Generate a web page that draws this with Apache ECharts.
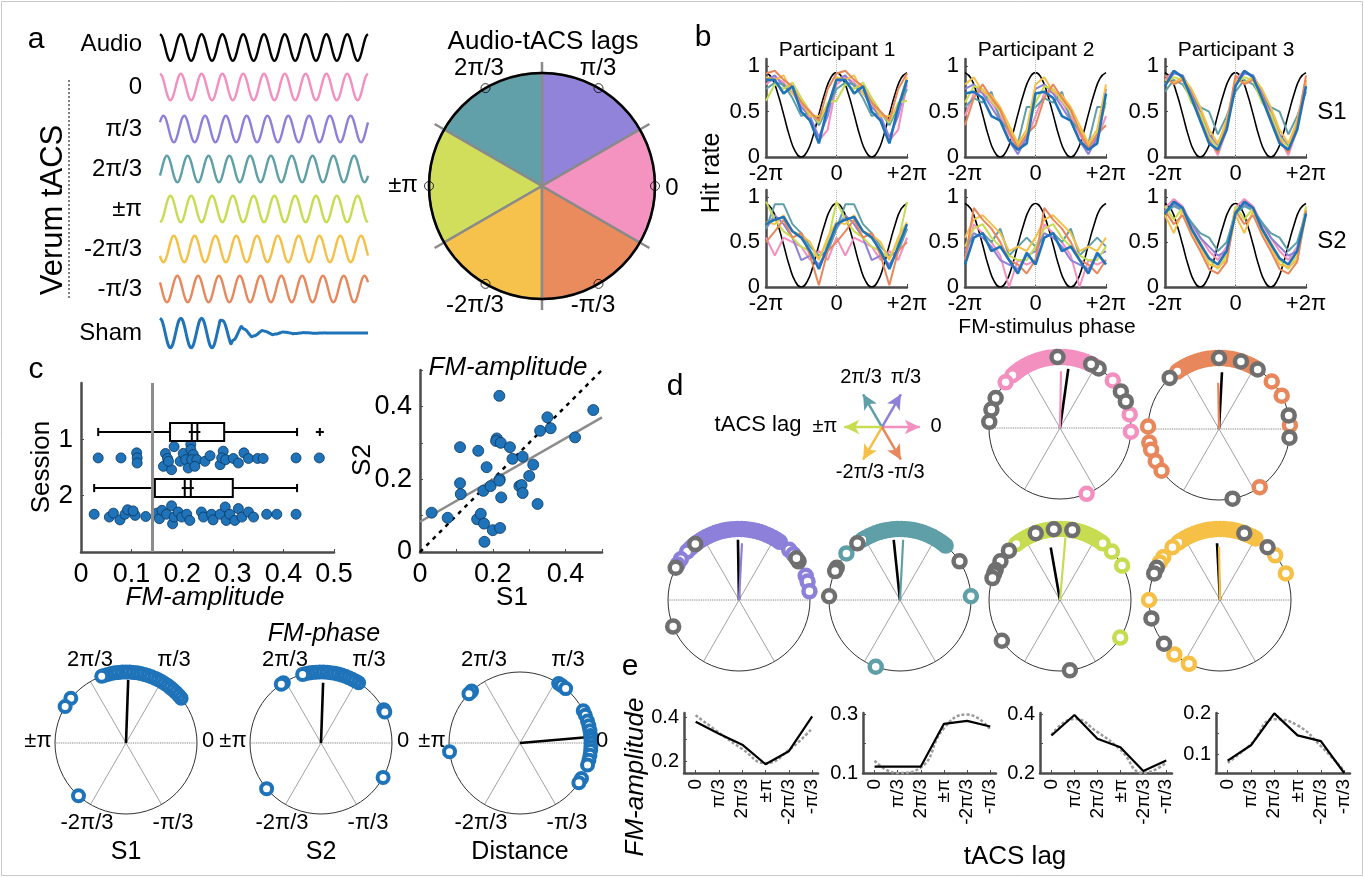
<!DOCTYPE html>
<html><head><meta charset="utf-8">
<script src="https://cdn.jsdelivr.net/npm/echarts@6/dist/echarts.min.js"></script>
<style>html,body{margin:0;padding:0;background:#fff}#c{width:1364px;height:877px}</style>
</head><body><div id="c"></div>
<script>
// ================= DATA =================
const lagLabels = ['0','π/3','2π/3','±π','-2π/3','-π/3'];
const lagAngles = [0,60,120,180,240,300];
// panel a
const waveNames = ['Audio','0','π/3','2π/3','±π','-2π/3','-π/3','Sham'];
const waveCycle = [1,0.866,0.5,0,-0.5,-0.866,-1,-0.866,-0.5,0,0.5,0.866];
const waveShift = [0,0,2,4,6,8,10,0];
const shamEnvelope = [1,1,1,1,1,1,0.85,0.5,0.3,0.2,0.13,0.08,0.05,0.03,0.02,0.01,0,0,0,0,0];
const pieSectorNames = ['π/3','2π/3','±π','-2π/3','-π/3','0'];
const pieSectorShares = [1,1,1,1,1,1];
// panel b (phase in units of π; series order: pink, purple, teal, green, yellow, orange, sham-blue)
const binPhase = [0,0.25,0.5,0.75,1,1.25,1.5,1.75];
const blackCycle = [0.93,0.87,0.70,0.47,0.23,0.06,0,0.06,0.23,0.47,0.70,0.87];
const hitP1S1 = [[0.80,0.88,0.82,0.70,0.60,0.40,0.18,0.30],[0.85,0.90,0.78,0.72,0.55,0.45,0.22,0.45],[0.75,0.82,0.80,0.65,0.45,0.50,0.35,0.55],[0.62,0.80,0.75,0.82,0.65,0.50,0.38,0.60],[0.88,0.85,0.90,0.70,0.62,0.45,0.45,0.55],[0.92,0.95,0.85,0.78,0.60,0.50,0.40,0.75],[0.85,0.85,0.70,0.78,0.50,0.40,0.15,0.55]];
const hitP2S1 = [[0.45,0.70,0.72,0.60,0.45,0.25,0.08,0.20],[0.75,0.80,0.70,0.55,0.40,0.18,0.03,0.22],[0.55,0.65,0.60,0.72,0.40,0.30,0.15,0.55],[0.60,0.78,0.75,0.62,0.50,0.30,0.12,0.25],[0.80,0.88,0.72,0.68,0.55,0.35,0.15,0.30],[0.35,0.65,0.80,0.65,0.52,0.28,0.10,0.25],[0.70,0.72,0.65,0.45,0.40,0.18,0.08,0.15]];
const hitP3S1 = [[0.85,0.95,0.88,0.70,0.45,0.20,0.02,0.30],[0.80,0.92,0.90,0.72,0.50,0.25,0.12,0.35],[0.72,0.85,0.80,0.65,0.55,0.50,0.25,0.45],[0.80,0.88,0.85,0.60,0.48,0.22,0.10,0.40],[0.85,0.82,0.88,0.75,0.55,0.30,0.15,0.40],[0.90,0.80,0.85,0.68,0.42,0.18,0.05,0.35],[0.78,0.95,0.88,0.65,0.40,0.15,0.08,0.30]];
const hitP1S2 = [[0.55,0.35,0.55,0.50,0.45,0.30,0.40,0.30],[0.65,0.80,0.70,0.55,0.30,0.35,0.25,0.40],[0.65,0.92,0.92,0.70,0.60,0.45,0.35,0.40],[0.95,0.75,0.62,0.55,0.45,0.40,0.32,0.50],[0.72,0.70,0.80,0.62,0.58,0.50,0.30,0.55],[0.50,0.62,0.75,0.55,0.60,0.35,0.02,0.40],[0.70,0.75,0.78,0.62,0.55,0.40,0.20,0.45]];
const hitP2S2 = [[0.30,0.70,0.60,0.50,0.35,0.00,0.30,0.25],[0.40,0.60,0.55,0.45,0.30,0.25,0.20,0.35],[0.45,0.55,0.60,0.50,0.65,0.35,0.45,0.55],[0.45,0.65,0.70,0.55,0.45,0.35,0.30,0.30],[0.55,0.75,0.80,0.70,0.60,0.40,0.45,0.40],[0.30,0.88,0.75,0.65,0.50,0.30,0.25,0.15],[0.25,0.55,0.60,0.40,0.45,0.30,0.15,0.38]];
const hitP3S2 = [[0.88,0.98,0.90,0.70,0.55,0.40,0.30,0.45],[0.85,0.92,0.85,0.72,0.55,0.45,0.35,0.40],[0.82,0.90,0.85,0.72,0.60,0.55,0.40,0.50],[0.90,0.75,0.88,0.65,0.50,0.30,0.20,0.35],[0.80,0.60,0.85,0.62,0.45,0.25,0.22,0.30],[0.85,0.70,0.80,0.58,0.40,0.20,0.15,0.28],[0.82,0.95,0.88,0.65,0.48,0.32,0.25,0.40]];
const participantNames = ['Participant 1','Participant 2','Participant 3'];
// panel c
const sess1Amp = [0.034,0.079,0.110,0.111,0.111,0.167,0.171,0.163,0.179,0.184,0.173,0.196,0.202,0.207,0.212,0.217,0.217,0.222,0.219,0.229,0.225,0.245,0.255,0.275,0.281,0.278,0.286,0.301,0.311,0.322,0.331,0.349,0.360,0.425,0.471];
const sess1Jitter = [0,0,-0.09,0,0.09,-0.08,0.01,0.15,0.21,-0.2,0.06,0.06,-0.08,0.03,0.18,-0.24,-0.15,-0.06,0.03,0.03,0.15,0.06,-0.04,0.12,-0.12,0,0.03,0.01,0.09,-0.09,0.01,0.01,0.01,0,0];
const sess2Amp = [0.026,0.056,0.064,0.077,0.087,0.092,0.107,0.103,0.128,0.150,0.155,0.160,0.169,0.179,0.181,0.184,0.192,0.199,0.209,0.215,0.238,0.242,0.258,0.261,0.275,0.285,0.287,0.294,0.304,0.311,0.318,0.331,0.341,0.367,0.387,0.425];
const sess2Jitter = [0,0.05,-0.02,0.1,0,-0.08,0.02,-0.06,0.04,-0.02,0.08,-0.07,0,-0.15,0.17,0.05,-0.04,0.05,0,0.11,-0.04,0.05,0,0.1,0,-0.13,0.11,0,0.11,-0.1,0.05,-0.04,0.05,0,0,0];
const boxRow = [0.87,1.865];
const boxLow = [0.034,0.026], boxQ1 = [0.176,0.146], boxMedian = [0.219,0.205], boxMean = [0.23,0.217], boxQ3 = [0.283,0.30], boxHigh = [0.427,0.427], boxOutlier = [0.472,null];
const chanceLevel = 0.142;
const ampS1 = [0.032,0.076,0.110,0.110,0.112,0.160,0.157,0.167,0.174,0.176,0.177,0.183,0.194,0.200,0.211,0.209,0.219,0.218,0.220,0.218,0.222,0.223,0.247,0.254,0.273,0.279,0.282,0.282,0.300,0.311,0.323,0.330,0.350,0.359,0.426,0.476];
const ampS2 = [0.108,0.094,0.288,0.189,0.159,0.278,0.090,0.105,0.168,0.078,0.028,0.233,0.181,0.060,0.312,0.305,0.200,0.196,0.066,0.429,0.300,0.150,0.288,0.256,0.181,0.184,0.262,0.162,0.209,0.240,0.132,0.333,0.370,0.340,0.315,0.390];
const identityLine = [[0,0],[0.5,0.5]];
const regressionLine = [[0,0.083],[0.5,0.37]];
const phaseS1 = [39,42,45,48,51,54,57,60,63,66,69,72,75,78,81,84,87,90,93,96,99,102,105,108,110,141,149,228];
const phaseS2 = [58,61,64,67,70,73,76,79,82,85,88,91,94,97,100,103,105,122,124,28,26,331,220];
const phaseDist = [133,136,187,57,54,50,27,23,18,14,10,6,3,0,357,354,350,346,342,330,326];
const meanS1 = [0.89,88], meanS2 = [0.85,88], meanDist = [0.9,5];
// panel d
const dPhaseLag0 = [60,63,66,69,72,75,78,81,84,87,90,93,96,99,102,105,108,111,114,117,120,123,126,129,132,140,42,11,357,292];
const dPhaseLag0Sham = [155,165,175,31,22,57,64,92];
const dPhaseLagM1 = [60,63,66,69,72,75,78,81,84,87,90,93,96,99,102,105,108,111,114,117,120,123,126,42,28,3,178,191,197,207,216,305];
const dPhaseLagM1Sham = [134,57,72,90,11,353,281];
const dPhaseLag1 = [55,58,61,64,67,70,73,76,79,82,85,88,91,94,97,100,103,106,109,112,115,118,121,124,127,130,133,137,145,150,45,40,20,15,7];
const dPhaseLag1Sham = [153,128,33,36,202];
const dPhaseLag2 = [50,53,56,59,62,65,68,71,74,77,80,83,86,89,92,95,98,101,104,107,110,113,116,119,122,139,3,250];
const dPhaseLag2Sham = [127,153,156,177,33];
const dPhaseLagPi = [56,59,62,65,68,71,74,77,80,83,86,89,92,95,98,101,104,107,110,113,116,119,122,125,128,53,43,29,328];
const dPhaseLagPiSham = [136,147,155,158,162,215,278,80,95,110];
const dPhaseLagM2 = [60,63,66,69,72,75,78,81,84,87,90,93,96,99,102,105,108,111,114,117,120,123,126,132,143,148,39,22,180,230,244];
const dPhaseLagM2Sham = [153,158,48,195,218,70];
const dMeanLag = [[0.80,89],[0.65,91],[0.80,87],[0.85,87],[0.88,85],[0.75,91]];
const dMeanSham = [[0.84,82],[0.80,87],[0.85,91],[0.85,96],[0.75,100],[0.80,93]];
// panel e
const eLagLabels = ['0','π/3','2π/3','±π','-2π/3','-π/3'];
const eObs1 = [0.38,0.325,0.275,0.185,0.245,0.405], eFit1 = [0.41,0.33,0.255,0.19,0.25,0.35];
const eObs2 = [0.122,0.122,0.122,0.268,0.278,0.259], eFit2 = [0.142,0.10,0.119,0.253,0.30,0.249];
const eObs3 = [0.328,0.398,0.317,0.288,0.207,0.243], eFit3 = [0.33,0.385,0.34,0.28,0.20,0.235];
const eObs4 = [0.085,0.122,0.199,0.146,0.132,0.055], eFit4 = [0.08,0.125,0.185,0.17,0.12,0.06];

// ================= STYLE / HELPERS =================
const FONT = '"Liberation Sans", Arial, Helvetica, sans-serif';
const PINK='#f390c0', PURPLE='#8c80da', TEAL='#5f9fa7', GREEN='#c8dc52', YELLOW='#f5c045', ORANGE='#e8875b', BLUE='#1f73b9', SGRAY='#6f6f6f';
const lagColors = [PINK,PURPLE,TEAL,GREEN,YELLOW,ORANGE];
const pieColors = ['#9083d9','#62a0a9','#d0de5c','#f6c24c','#e98b5c','#f493c0'];
const option = {animation:false, backgroundColor:'#fff', grid:[], xAxis:[], yAxis:[], polar:[], angleAxis:[], radiusAxis:[], series:[], graphic:[]};

function merge(a,b){const o=Object.assign({},a);for(const k in b){const bv=b[k],av=a?a[k]:undefined;if(bv&&typeof bv==='object'&&!Array.isArray(bv)&&av&&typeof av==='object'&&!Array.isArray(av))o[k]=merge(av,bv);else o[k]=bv;}return o;}
const AX = {type:'value', axisLine:{show:true,onZero:false,lineStyle:{color:'#4b4b4b',width:2.5}}, axisTick:{show:true,inside:true,length:3,lineStyle:{color:'#4b4b4b',width:1}}, axisLabel:{show:true,color:'#000',fontFamily:FONT,fontSize:22,margin:6}, splitLine:{show:false}};
function addGrid(left,top,width,height,xa,ya){const gi=option.grid.length;option.grid.push({left,top,width,height,containLabel:false,outerBoundsMode:'none'});option.xAxis.push(Object.assign({gridIndex:gi},xa));option.yAxis.push(Object.assign({gridIndex:gi},ya));return gi;}
function txt(x,y,s,size,o){o=o||{};const al=o.align||'center';option.graphic.push({type:'text',x,y,rotation:o.rot||0,silent:true,z:100,style:{text:s,x:0,y:0,fill:'#000',font:(o.italic?'italic ':'')+size+'px '+FONT,align:al,verticalAlign:'middle',textAlign:al,textVerticalAlign:'middle'}});}
function addPolar(cx,cy,r,angleExtra){const pi=option.polar.length;option.polar.push({center:[cx,cy],radius:r});
  option.angleAxis.push(merge({polarIndex:pi,type:'value',min:0,max:360,startAngle:0,clockwise:false,z:1,axisLine:{show:true,lineStyle:{color:'#333',width:1}},axisTick:{show:false},axisLabel:{show:false},splitLine:{show:false}},angleExtra||{}));
  option.radiusAxis.push({polarIndex:pi,type:'value',min:0,max:1,show:false});return pi;}
function polarLine(pi,data,color,width,type,z){option.series.push({type:'line',coordinateSystem:'polar',polarIndex:pi,data,symbol:'none',silent:true,z:z||3,lineStyle:{color,width,type:type||'solid'}});}
function polarMarkers(pi,angles,color,size,bw){option.series.push({type:'scatter',coordinateSystem:'polar',polarIndex:pi,silent:true,z:4,symbol:'circle',symbolSize:size,data:angles.map(a=>[1,a]),itemStyle:{color:'#fff',borderColor:color,borderWidth:bw,opacity:1}});}
function circlePlot(cx,cy,r,sets,vecs){const pi=addPolar(cx,cy,r);
  polarLine(pi,[[1,60],[1,240]],'#8a8a8a',0.8,'solid',2);
  polarLine(pi,[[1,120],[1,300]],'#8a8a8a',0.8,'solid',2);
  polarLine(pi,[[1,0],[1,180]],'#666',0.9,'dotted',2);
  sets.forEach(s=>polarMarkers(pi,s.angles,s.color,s.size||11,s.bw||3.5));
  vecs.forEach(v=>polarLine(pi,[[0,v.ang],[v.len,v.ang]],v.color,v.width,'solid',5));
  return pi;}

// ================= PANEL A =================
txt(36,40,'a',30);
const rowCenters=[47.5,87,129,169,209,249,289,333];
const waveColors=['#000',PINK,PURPLE,TEAL,GREEN,YELLOW,ORANGE,BLUE];
waveNames.forEach((name,r)=>{
  const half = r===7?15.5:14;
  const gi = addGrid(160,rowCenters[r]-half,208,2*half,{type:'value',show:false,min:0,max:120},{type:'value',show:false,min:-1.05,max:1.05});
  const data=[];
  for(let j=0;j<=120;j++){
    const v = r<7 ? waveCycle[((j-waveShift[r])%12+12)%12] : waveCycle[j%12]*shamEnvelope[Math.floor(j/6)];
    data.push([j,v]);
  }
  option.series.push({type:'line',xAxisIndex:gi,yAxisIndex:gi,data,smooth:0.5,symbol:'none',silent:true,lineStyle:{color:waveColors[r],width:r===7?3:2.4}});
  txt(142,rowCenters[r]-(r===0?3:0),name,24,{align:'right'});
});
txt(53,210,'Verum tACS',31,{rot:Math.PI/2});
option.graphic.push({type:'line',silent:true,shape:{x1:69,y1:80,x2:69,y2:300},style:{stroke:'#000',lineWidth:1,lineDash:[2,2]}});
// pie
txt(543,42,'Audio-tACS lags',26);
{ const p0=option.polar.length; option.polar.push({center:[542,186],radius:124});
  option.angleAxis.push({polarIndex:p0,type:'value',min:0,max:360,interval:60,startAngle:30,clockwise:false,z:0,axisLine:{show:false},axisTick:{show:false},axisLabel:{show:false},splitLine:{show:true,lineStyle:{color:'#8a8a8a',width:2.5}}});
  option.radiusAxis.push({polarIndex:p0,type:'value',min:0,max:1,show:false}); }
option.series.push({type:'pie',center:[542,186],radius:113,startAngle:30,clockwise:false,silent:true,z:2,label:{show:false},labelLine:{show:false},itemStyle:{borderColor:'#8a8a8a',borderWidth:2.5},
  data:pieSectorNames.map((n,i)=>({name:n,value:pieSectorShares[i],itemStyle:{color:pieColors[i]}}))});
{ const p1=addPolar(542,186,113,{z:6,axisLine:{lineStyle:{color:'#000',width:2.5}}});
  option.series.push({type:'scatter',coordinateSystem:'polar',polarIndex:p1,silent:true,z:8,symbol:'circle',symbolSize:9,data:lagAngles.map(a=>[1,a]),itemStyle:{color:'rgba(255,255,255,0)',borderColor:'#000',borderWidth:1}}); }
[[479,68,'2π/3'],[598,68,'π/3'],[403,185,'±π'],[672,188,'0'],[475,305,'-2π/3'],[593,305,'-π/3']].forEach(t=>txt(t[0],t[1],t[2],24));

// ================= PANEL B =================
txt(703,38,'b',30);
const bLefts=[766,965,1165], bTops=[59,190], bHeights=[98,97];
const bPanels=[hitP1S1,hitP2S1,hitP3S1,hitP1S2,hitP2S2,hitP3S2];
const bColors=[PINK,PURPLE,TEAL,GREEN,YELLOW,ORANGE,BLUE];
bPanels.forEach((panel,idx)=>{
  const col=idx%3,row=Math.floor(idx/3);
  const gi=addGrid(bLefts[col],bTops[row],141,bHeights[row],
    merge(AX,{min:-2,max:2,axisLabel:{customValues:[-2,0,2],formatter:v=>v<-1?'-2π':(v>1?'+2π':'0')},axisTick:{customValues:[-2,0,2]}}),
    merge(AX,{min:0,max:1.08,axisLabel:{customValues:[0,0.5,1],formatter:v=>String(v)},axisTick:{customValues:[0,0.5,1]}}));
  const blk=[]; for(let k=0;k<=24;k++) blk.push([-2+k/6,blackCycle[k%12]]);
  option.series.push({type:'line',xAxisIndex:gi,yAxisIndex:gi,data:blk,smooth:0.5,symbol:'none',silent:true,z:2,lineStyle:{color:'#000',width:1.6},
    markLine:{silent:true,symbol:['none','none'],label:{show:false},lineStyle:{color:'#b0b0b0',type:'dotted',width:1},data:[{xAxis:0}]}});
  panel.forEach((vals,s)=>{
    const d=binPhase.map((p,i)=>[-2+p,vals[i]]).concat(binPhase.map((p,i)=>[p,vals[i]])).concat([[2,vals[0]]]);
    option.series.push({type:'line',xAxisIndex:gi,yAxisIndex:gi,data:d,symbol:'none',silent:true,z:3+s,lineStyle:{color:bColors[s],width:s===6?2.6:2}});
  });
});
participantNames.forEach((n,i)=>txt(bLefts[i]+71,50,n,21));
txt(1332,112,'S1',24); txt(1332,241,'S2',24);
txt(712,173,'Hit rate',25,{rot:Math.PI/2});
txt(1047,327,'FM-stimulus phase',21);

// ================= PANEL C =================
txt(36,370,'c',30);
{ const gi=addGrid(81,383,253,169,
    merge(AX,{min:0,max:0.5,interval:0.1,axisLabel:{fontSize:27,margin:9,formatter:v=>v===0?'0':v.toFixed(1)}}),
    merge(AX,{min:0,max:3,inverse:true,axisLabel:{fontSize:26,margin:8,customValues:[1,2]},axisTick:{customValues:[1,2]}}));
  option.series.push({type:'scatter',xAxisIndex:gi,yAxisIndex:gi,silent:true,z:3,symbolSize:10,
    data:sess1Amp.map((v,i)=>[v,1.33+sess1Jitter[i]]).concat(sess2Amp.map((v,i)=>[v,2.33+sess2Jitter[i]])),
    itemStyle:{color:BLUE,borderColor:'#0b365f',borderWidth:0.8,opacity:1},
    markLine:{silent:true,symbol:['none','none'],label:{show:false},lineStyle:{color:'#8c8c8c',width:3,type:'solid'},data:[{xAxis:chanceLevel}]}});
  option.series.push({type:'custom',xAxisIndex:gi,yAxisIndex:gi,silent:true,z:4,encode:{x:[1,2,3,4,5,6],y:0},
    data:boxRow.map((y,i)=>[y,boxLow[i],boxQ1[i],boxMedian[i],boxMean[i],boxQ3[i],boxHigh[i],boxOutlier[i]===null?'-':boxOutlier[i]]),
    renderItem:(params,api)=>{
      const y=api.value(0); const h=Math.abs(api.size([0,0.16])[1]); const cap=h*0.45;
      const P=x=>api.coord([x,y]);
      const st={stroke:'#000',lineWidth:2,fill:null};
      const L=(x1,y1,x2,y2)=>({type:'line',shape:{x1,y1,x2,y2},style:st});
      const lo=P(api.value(1)),q1=P(api.value(2)),md=P(api.value(3)),mn=P(api.value(4)),q3=P(api.value(5)),hi=P(api.value(6));
      const cy=lo[1];
      const ch=[L(lo[0],cy,q1[0],cy),L(q3[0],cy,hi[0],cy),L(lo[0],cy-cap,lo[0],cy+cap),L(hi[0],cy-cap,hi[0],cy+cap),
        {type:'rect',shape:{x:q1[0],y:cy-h,width:q3[0]-q1[0],height:2*h},style:{stroke:'#000',lineWidth:2,fill:'#fff'}},
        L(md[0],cy-h,md[0],cy+h),L(mn[0],cy-h,mn[0],cy+h),L(md[0]-3,cy,mn[0]+3,cy)];
      const ov=api.value(7);
      if(!isNaN(ov)){const o=P(ov);ch.push(L(o[0]-4,cy,o[0]+4,cy),L(o[0],cy-4,o[0],cy+4));}
      return {type:'group',children:ch};
    }});
}
txt(42,467,'Session',26,{rot:Math.PI/2});
txt(205,598,'FM-amplitude',26,{italic:true});
{ const gi=addGrid(420,370,182,182,
    merge(AX,{min:0,max:0.5,interval:0.1,axisLabel:{fontSize:27,margin:9,customValues:[0,0.2,0.4],formatter:v=>v===0?'0':v.toFixed(1)}}),
    merge(AX,{min:0,max:0.5,interval:0.1,axisLabel:{fontSize:27,margin:8,customValues:[0,0.2,0.4],formatter:v=>v===0?'0':v.toFixed(1)}}));
  option.series.push({type:'line',xAxisIndex:gi,yAxisIndex:gi,data:identityLine,symbol:'none',silent:true,z:2,lineStyle:{color:'#000',width:2.5,type:[4,5]}});
  option.series.push({type:'line',xAxisIndex:gi,yAxisIndex:gi,data:regressionLine,symbol:'none',silent:true,z:2,lineStyle:{color:'#8c8c8c',width:2.5}});
  option.series.push({type:'scatter',xAxisIndex:gi,yAxisIndex:gi,silent:true,z:3,symbolSize:11,data:ampS1.map((v,i)=>[v,ampS2[i]]),itemStyle:{color:BLUE,borderColor:'#0b365f',borderWidth:0.8,opacity:1}});
}
txt(508,368,'FM-amplitude',26,{italic:true});
txt(363,460,'S2',26,{rot:Math.PI/2});
txt(512,598,'S1',26);
// FM-phase polars
txt(324,634,'FM-phase',25,{italic:true});
const cCenters=[[126,743],[321,743],[520,743]];
const cPhases=[phaseS1,phaseS2,phaseDist], cMeans=[meanS1,meanS2,meanDist], cNames=['S1','S2','Distance'];
const cLabelOff=[[82,-2],[48,-83],[-36,-83],[-88,-2],[-39,80],[47,80]];
cCenters.forEach((c,i)=>{
  circlePlot(c[0],c[1],71,[{angles:cPhases[i],color:BLUE,size:11,bw:4}],[{len:cMeans[i][0],ang:cMeans[i][1],color:'#000',width:2.6}]);
  cLabelOff.forEach((o,k)=>txt(c[0]+o[0],c[1]+o[1],lagLabels[k],22));
  txt(c[0],852,cNames[i],25);
});

// ================= PANEL D =================
txt(675,387,'d',30);
txt(758,425,'tACS lag',22);
{ const pi=addPolar(882,427,45,{axisLine:{show:false}});
  lagAngles.forEach((a,i)=>{
    option.series.push({type:'line',coordinateSystem:'polar',polarIndex:pi,silent:true,z:4,showSymbol:true,
      data:[{value:[0,a],symbol:'none'},{value:[0.84,a],symbol:'arrow',symbolSize:[11,15],symbolRotate:a-90}],
      lineStyle:{color:lagColors[i],width:2.5},itemStyle:{color:lagColors[i]}});
  });
  [[-21,-50],[24,-50],[54,-1],[-57,-1],[-22,45],[24,45]].forEach((o,k)=>{
    const order=[2,1,0,3,4,5][k];
    txt(882+o[0],427+o[1],lagLabels[order],20);
  });
}
const dCenters=[[1060,428],[1219,429],[739,600],[900,600],[1060,600],[1220,600]];
const dLagSets=[dPhaseLag0,dPhaseLagM1,dPhaseLag1,dPhaseLag2,dPhaseLagPi,dPhaseLagM2];
const dShamSets=[dPhaseLag0Sham,dPhaseLagM1Sham,dPhaseLag1Sham,dPhaseLag2Sham,dPhaseLagPiSham,dPhaseLagM2Sham];
const dColors=[PINK,ORANGE,PURPLE,TEAL,GREEN,YELLOW];
dCenters.forEach((c,i)=>{
  circlePlot(c[0],c[1],71,
    [{angles:dLagSets[i],color:dColors[i],size:12,bw:4.5},{angles:dShamSets[i],color:SGRAY,size:12,bw:4.5}],
    [{len:dMeanSham[i][0],ang:dMeanSham[i][1],color:'#000',width:2.6},{len:dMeanLag[i][0],ang:dMeanLag[i][1],color:dColors[i],width:2.2}]);
});

// ================= PANEL E =================
txt(630,667,'e',30);
const eLefts=[684,863,1040,1216], eWidths=[134,133,132,134];
const eRanges=[[0.145,0.42],[0.1,0.305],[0.2,0.405],[0.055,0.2]];
const eYLabels=[[0.2,0.4],[0.1,0.3],[0.2,0.4],[0.1,0.2]];
const eYTicks=[[0.2,0.3,0.4],[0.1,0.2,0.3],[0.2,0.3,0.4],[0.1,0.15,0.2]];
const eObs=[eObs1,eObs2,eObs3,eObs4], eFit=[eFit1,eFit2,eFit3,eFit4];
eLefts.forEach((l,i)=>{
  const gi=addGrid(l,713,eWidths[i],60,
    merge(AX,{min:-0.5,max:5.25,axisLabel:{customValues:[0,1,2,3,4,5],rotate:90,fontSize:19,margin:6,formatter:v=>eLagLabels[Math.round(v)]},axisTick:{customValues:[0,1,2,3,4,5]}}),
    merge(AX,{min:eRanges[i][0],max:eRanges[i][1],axisLabel:{customValues:eYLabels[i],fontSize:20,margin:5,formatter:v=>v.toFixed(1)},axisTick:{customValues:eYTicks[i]}}));
  option.series.push({type:'line',xAxisIndex:gi,yAxisIndex:gi,data:eFit[i].map((v,k)=>[k,v]),smooth:0.5,symbol:'none',silent:true,z:2,lineStyle:{color:'#9a9a9a',width:2.5,type:[3,2]}});
  option.series.push({type:'line',xAxisIndex:gi,yAxisIndex:gi,data:eObs[i].map((v,k)=>[k,v]),symbol:'none',silent:true,z:3,lineStyle:{color:'#000',width:2.2}});
});
txt(636,777,'FM-amplitude',26,{italic:true,rot:Math.PI/2});
txt(1015,857,'tACS lag',26);

// frame
option.graphic.push({type:'rect',silent:true,z:0,shape:{x:1.5,y:1.5,width:1361,height:874},style:{fill:null,stroke:'#c8c8c8',lineWidth:1}});

const chart = echarts.init(document.getElementById('c'), null, {renderer:'canvas'});
chart.setOption(option);
</script></body></html>
